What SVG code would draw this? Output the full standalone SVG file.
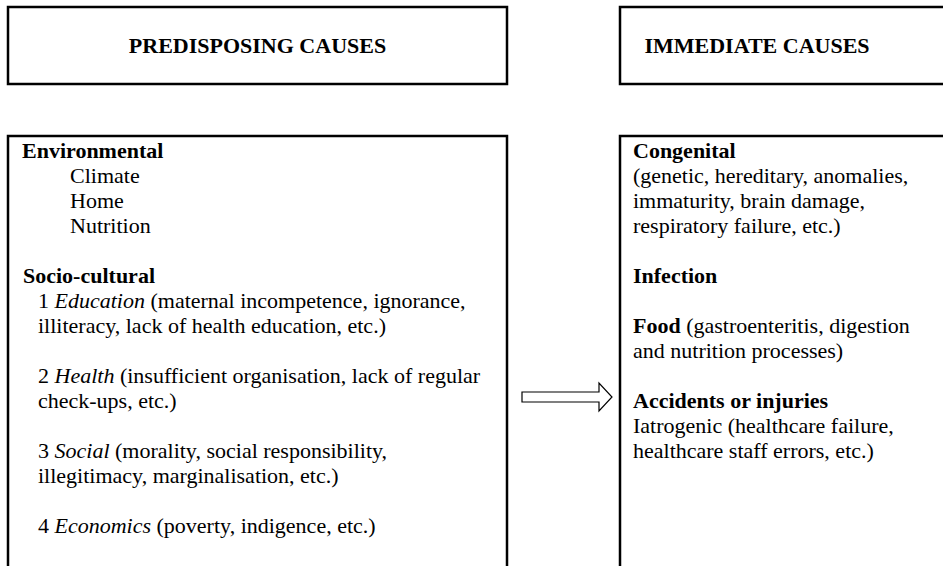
<svg xmlns="http://www.w3.org/2000/svg" width="943" height="566" viewBox="0 0 943 566">
<style>
.box{fill:#fff;stroke:#000;stroke-width:2.5}
.t{font-family:"Liberation Serif","Times New Roman",serif;font-size:22px;fill:#000}
.b{font-weight:bold}
.i{font-style:italic}
.arrow{fill:#fff;stroke:#000;stroke-width:1.2}
</style>
<rect width="943" height="566" fill="#fff"/>
<g id="predisposing-title">
<rect class="box" x="8" y="7" width="499" height="77"/>
<text class="t b" x="257.5" y="53" text-anchor="middle">PREDISPOSING CAUSES</text>
</g>
<g id="immediate-title">
<rect class="box" x="620" y="7" width="330" height="77"/>
<text class="t b" x="757" y="53" text-anchor="middle">IMMEDIATE CAUSES</text>
</g>
<g id="predisposing-list">
<rect class="box" x="8" y="136" width="499" height="440"/>
<text class="t b" x="22" y="158">Environmental</text>
<text class="t" x="70" y="183">Climate</text>
<text class="t" x="70" y="208">Home</text>
<text class="t" x="70" y="233">Nutrition</text>
<text class="t b" x="23" y="283">Socio-cultural</text>
<text class="t" x="38" y="308">1 <tspan class="i">Education</tspan> (maternal incompetence, ignorance,</text>
<text class="t" x="38" y="333">illiteracy, lack of health education, etc.)</text>
<text class="t" x="38" y="383">2 <tspan class="i">Health</tspan> (insufficient organisation, lack of regular</text>
<text class="t" x="38" y="408">check-ups, etc.)</text>
<text class="t" x="38" y="458">3 <tspan class="i">Social</tspan> (morality, social responsibility,</text>
<text class="t" x="38" y="483">illegitimacy, marginalisation, etc.)</text>
<text class="t" x="38" y="533">4 <tspan class="i">Economics</tspan> (poverty, indigence, etc.)</text>
</g>
<g id="immediate-list">
<rect class="box" x="620" y="136" width="330" height="440"/>
<text class="t b" x="633" y="158">Congenital</text>
<text class="t" x="633" y="183">(genetic, hereditary, anomalies,</text>
<text class="t" x="633" y="208">immaturity, brain damage,</text>
<text class="t" x="633" y="233">respiratory failure, etc.)</text>
<text class="t b" x="633" y="283">Infection</text>
<text class="t" x="633" y="333"><tspan class="b">Food</tspan> (gastroenteritis, digestion</text>
<text class="t" x="633" y="358">and nutrition processes)</text>
<text class="t b" x="633" y="408">Accidents or injuries</text>
<text class="t" x="633" y="433">Iatrogenic (healthcare failure,</text>
<text class="t" x="633" y="458">healthcare staff errors, etc.)</text>
</g>
<g id="connectors">
<polygon class="arrow" points="522,392 599,392 599,383 612,397 599,411 599,402 522,402"/>
</g>
</svg>
